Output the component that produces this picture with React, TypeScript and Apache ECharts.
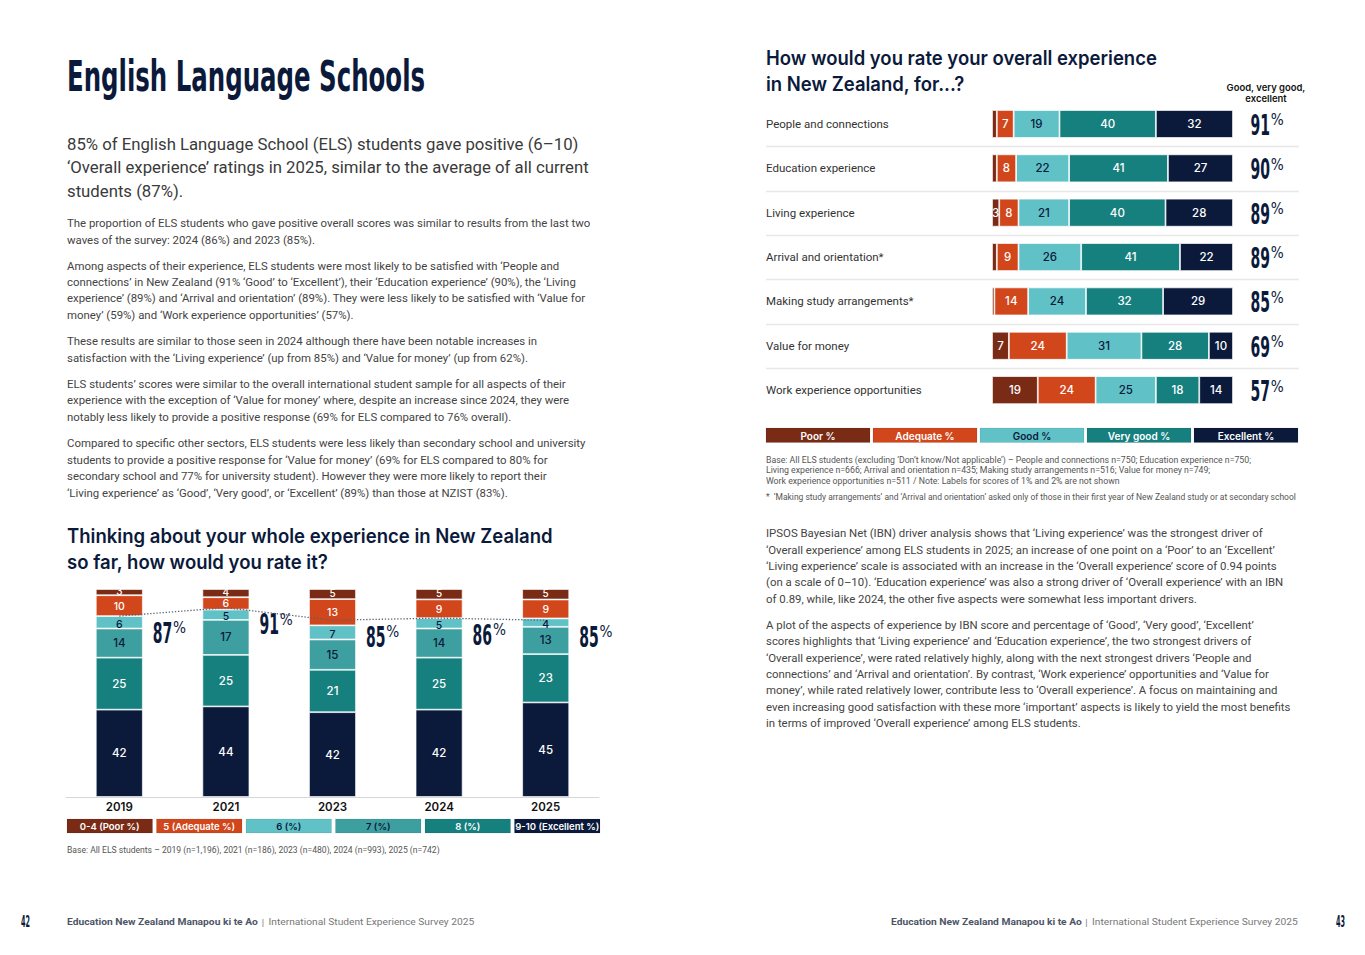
import React, { useEffect, useRef } from 'react';
import * as echarts from 'echarts';

// ---------- chart data: overall experience by year ----------
const years = ['2019', '2021', '2023', '2024', '2025'];
const yPoor = [3, 4, 5, 5, 5];
const yAdequate = [10, 6, 13, 9, 9];
const ySix = [6, 5, 7, 5, 4];
const ySeven = [14, 17, 15, 14, 13];
const yEight = [25, 25, 21, 25, 23];
const yExcellent = [42, 44, 42, 42, 45];
const yPositive = [87, 91, 85, 86, 85];
const yearLegend = ['0-4 (Poor %)', '5 (Adequate %)', '6 (%)', '7 (%)', '8 (%)', '9-10 (Excellent %)'];

// ---------- chart data: aspects of experience ----------
const aspects = [
  'People and connections',
  'Education experience',
  'Living experience',
  'Arrival and orientation*',
  'Making study arrangements*',
  'Value for money',
  'Work experience opportunities',
];
const aPoor = [2, 2, 3, 2, 1, 7, 19];
const aAdequate = [7, 8, 8, 9, 14, 24, 24];
const aGood = [19, 22, 21, 26, 24, 31, 25];
const aVeryGood = [40, 41, 40, 41, 32, 28, 18];
const aExcellent = [32, 27, 28, 22, 29, 10, 14];
const aPositive = [91, 90, 89, 89, 85, 69, 57];
const aspectLegend = ['Poor %', 'Adequate %', 'Good %', 'Very good %', 'Excellent %'];

// ---------- page text ----------
const pageTitle = 'English Language Schools';
const leadLines = [
  '85% of English Language School (ELS) students gave positive (6–10)',
  '‘Overall experience’ ratings in 2025, similar to the average of all current',
  'students (87%).',
];
const leftBody: [number, string][] = [
  [223, 'The proportion of ELS students who gave positive overall scores was similar to results from the last two'],
  [240, 'waves of the survey: 2024 (86%) and 2023 (85%).'],
  [266, 'Among aspects of their experience, ELS students were most likely to be satisfied with ‘People and'],
  [282, 'connections’ in New Zealand (91% ‘Good’ to ‘Excellent’), their ‘Education experience’ (90%), the ‘Living'],
  [298, 'experience’ (89%) and ‘Arrival and orientation’ (89%). They were less likely to be satisfied with ‘Value for'],
  [315, 'money’ (59%) and ‘Work experience opportunities’ (57%).'],
  [341, 'These results are similar to those seen in 2024 although there have been notable increases in'],
  [358, 'satisfaction with the ‘Living experience’ (up from 85%) and ‘Value for money’ (up from 62%).'],
  [384, 'ELS students’ scores were similar to the overall international student sample for all aspects of their'],
  [400, 'experience with the exception of ‘Value for money’ where, despite an increase since 2024, they were'],
  [417, 'notably less likely to provide a positive response (69% for ELS compared to 76% overall).'],
  [443, 'Compared to specific other sectors, ELS students were less likely than secondary school and university'],
  [460, 'students to provide a positive response for ‘Value for money’ (69% for ELS compared to 80% for'],
  [476, 'secondary school and 77% for university student). However they were more likely to report their'],
  [493, '‘Living experience’ as ‘Good’, ‘Very good’, or ‘Excellent’ (89%) than those at NZIST (83%).'],
];
const rightBody: [number, string][] = [
  [533, 'IPSOS Bayesian Net (IBN) driver analysis shows that ‘Living experience’ was the strongest driver of'],
  [550, '‘Overall experience’ among ELS students in 2025; an increase of one point on a ‘Poor’ to an ‘Excellent’'],
  [566, '‘Living experience’ scale is associated with an increase in the ‘Overall experience’ score of 0.94 points'],
  [582, '(on a scale of 0–10). ‘Education experience’ was also a strong driver of ‘Overall experience’ with an IBN'],
  [599, 'of 0.89, while, like 2024, the other five aspects were somewhat less important drivers.'],
  [625, 'A plot of the aspects of experience by IBN score and percentage of ‘Good’, ‘Very good’, ‘Excellent’'],
  [641, 'scores highlights that ‘Living experience’ and ‘Education experience’, the two strongest drivers of'],
  [658, '‘Overall experience’, were rated relatively highly, along with the next strongest drivers ‘People and'],
  [674, 'connections’ and ‘Arrival and orientation’. By contrast, ‘Work experience’ opportunities and ‘Value for'],
  [690, 'money’, while rated relatively lower, contribute less to ‘Overall experience’. A focus on maintaining and'],
  [707, 'even increasing good satisfaction with these more ‘important’ aspects is likely to yield the most benefits'],
  [723, 'in terms of improved ‘Overall experience’ among ELS students.'],
];
const leftChartTitle = ['Thinking about your whole experience in New Zealand', 'so far, how would you rate it?'];
const rightChartTitle = ['How would you rate your overall experience', 'in New Zealand, for...?'];
const leftBase = 'Base: All ELS students – 2019 (n=1,196), 2021 (n=186), 2023 (n=480), 2024 (n=993), 2025 (n=742)';
const rightBase = [
  'Base: All ELS students (excluding ‘Don’t know/Not applicable’) – People and connections n=750; Education experience n=750;',
  'Living experience n=666; Arrival and orientation n=435; Making study arrangements n=516; Value for money n=749;',
  'Work experience opportunities n=511 / Note: Labels for scores of 1% and 2% are not shown',
];
const footnote = '*  ‘Making study arrangements’ and ‘Arrival and orientation’ asked only of those in their first year of New Zealand study or at secondary school';
const footerBold = 'Education New Zealand Manapou ki te Ao';
const footerRegular = 'International Student Experience Survey 2025';

// ---------- style ----------
const NAVY = '#0b1a3b';
const YEAR_COLORS = ['#7a2b15', '#d2461b', '#60c2c7', '#3e9fa1', '#16807f', '#0b1a3b'];
const YEAR_TEXT = ['#ffffff', '#ffffff', NAVY, NAVY, '#ffffff', '#ffffff'];
const YEAR_LABEL_SHIFT = [-1, 0.5, 2, 0, 0, 0];
const YEAR_LABEL_SIZE = [10, 10.5, 10.5, 11.5, 11.5, 11.5];
const ASPECT_COLORS = ['#7a2b15', '#d2461b', '#60c2c7', '#16807f', '#0b1a3b'];
const ASPECT_TEXT = ['#ffffff', '#ffffff', NAVY, '#ffffff', '#ffffff'];

const COND = '"Liberation Sans Narrow", "DejaVu Sans Condensed", "DejaVu Sans", sans-serif';
const BODY = 'Roboto, "Liberation Sans", sans-serif';
const HEAD = 'Inter, Roboto, sans-serif';

type F = { family: string; size: number; weight: number };
const fstr = (f: F) => `${f.weight} ${f.size}px ${f.family}`;

function makeMeasure() {
  const c = document.createElement('canvas');
  const ctx = c.getContext('2d') as CanvasRenderingContext2D;
  return (t: string, f: F) => {
    ctx.font = fstr(f);
    return ctx.measureText(t).width;
  };
}

function T(x: number, y: number, text: string, f: F, fill: string, sx = 1, align = 'left') {
  return {
    type: 'text',
    x,
    y,
    scaleX: sx,
    silent: true,
    style: {
      text,
      fill,
      fontFamily: f.family,
      fontSize: f.size,
      fontWeight: f.weight,
      align,
      verticalAlign: 'middle',
      textAlign: align,
      textVerticalAlign: 'middle',
    },
  };
}

export default function App() {
  const ref = useRef<HTMLDivElement>(null);

  useEffect(() => {
    document.body.style.margin = '0';
    const el = ref.current as HTMLDivElement;
    const chart = echarts.init(el, null, { renderer: 'svg' });
    const mw = makeMeasure();

    // ---- left chart series (bottom to top) ----
    const yearArrays = [yPoor, yAdequate, ySix, ySeven, yEight, yExcellent];
    const yTot = years.map((_, i) => yearArrays.reduce((s, a) => s + a[i], 0));
    const yearOrder = [5, 4, 3, 2, 1, 0];
    const yearSeries = yearOrder.map((k) => ({
      type: 'bar',
      name: yearLegend[k],
      stack: 'years',
      xAxisIndex: 0,
      yAxisIndex: 0,
      barWidth: 47,
      data: yearArrays[k].map((v, i) => ({ value: (v / yTot[i]) * 100, raw: v })),
      itemStyle: { color: YEAR_COLORS[k], borderColor: 'rgba(255,255,255,0.85)', borderWidth: 0.8 },
      label: {
        show: true,
        position: 'inside',
        offset: [0, YEAR_LABEL_SHIFT[k]],
        formatter: (p: any) => String(p.data.raw),
        color: YEAR_TEXT[k],
        fontSize: YEAR_LABEL_SIZE[k],
        lineHeight: 9,
        fontFamily: HEAD,
        fontWeight: 500,
        textBorderWidth: 0,
      },
      silent: true,
    }));

    // ---- right chart series (left to right) ----
    const aspectArrays = [aPoor, aAdequate, aGood, aVeryGood, aExcellent];
    const aTot = aspects.map((_, i) => aspectArrays.reduce((s, a) => s + a[i], 0));
    const aspectSeries = aspectArrays.map((arr, k) => ({
      type: 'bar',
      name: aspectLegend[k],
      stack: 'aspects',
      xAxisIndex: 1,
      yAxisIndex: 1,
      barWidth: 28,
      data: arr.map((v, i) => ({ value: (v / aTot[i]) * 100, raw: v })),
      itemStyle: { color: ASPECT_COLORS[k], borderColor: 'rgba(255,255,255,0.9)', borderWidth: 0.8 },
      label: {
        show: true,
        position: 'inside',
        formatter: (p: any) => (p.data.raw >= 3 ? String(p.data.raw) : ''),
        color: ASPECT_TEXT[k],
        fontSize: 11.5,
        fontFamily: HEAD,
        fontWeight: 500,
        textBorderWidth: 0,
      },
      silent: true,
    }));

    chart.setOption({
      animation: false,
      grid: [
        { left: 66, top: 589, width: 533, height: 208 },
        { left: 992, top: 101.8, width: 241, height: 310.5 },
      ],
      xAxis: [
        {
          gridIndex: 0,
          type: 'category',
          data: years,
          axisTick: { show: false },
          axisLine: { lineStyle: { color: '#d6d6d6', width: 1 } },
          axisLabel: { color: '#111', fontSize: 11.5, fontWeight: 600, fontFamily: HEAD, margin: 4 },
        },
        { gridIndex: 1, type: 'value', min: 0, max: 100, show: false },
      ],
      yAxis: [
        { gridIndex: 0, type: 'value', min: 0, max: 100, show: false },
        {
          gridIndex: 1,
          type: 'category',
          data: aspects,
          inverse: true,
          axisLine: { show: false },
          axisTick: { show: false },
          splitLine: { show: false },
          axisLabel: { align: 'left', margin: 226, color: '#333', fontSize: 11.5, fontFamily: BODY },
        },
      ],
      series: [
        ...yearSeries,
        {
          type: 'line',
          name: 'Positive (6-10)',
          xAxisIndex: 0,
          yAxisIndex: 0,
          data: yPositive,
          symbol: 'none',
          z: 5,
          silent: true,
          lineStyle: { color: '#56606e', width: 1.3, type: [1.3, 1.8] },
        },
        ...aspectSeries,
      ],
    });

    // ---------- graphics ----------
    const g: any[] = [];

    // page title
    const titleF: F = { family: COND, size: 42.5, weight: 700 };
    g.push(T(67, 76.5, pageTitle, titleF, NAVY, 358 / mw(pageTitle, titleF)));

    // lead paragraph
    const leadF: F = { family: BODY, size: 16.5, weight: 400 };
    const leadSX = 522 / mw(leadLines[1], leadF);
    [145, 168, 191.5].forEach((y, i) => g.push(T(67, y, leadLines[i], leadF, '#3a3a3a', leadSX)));

    // body paragraphs
    const bodyF: F = { family: BODY, size: 11.5, weight: 400 };
    const bodySX = 524 / mw(leftBody[0][1], bodyF);
    leftBody.forEach(([y, t]) => g.push(T(67, y, t, bodyF, '#444', bodySX)));
    rightBody.forEach(([y, t]) => g.push(T(766, y, t, bodyF, '#444', bodySX)));

    // chart titles
    const headF: F = { family: HEAD, size: 19.5, weight: 600 };
    const lSX = 486 / mw(leftChartTitle[0], headF);
    const rSX = 391 / mw(rightChartTitle[0], headF);
    g.push(T(67, 536, leftChartTitle[0], headF, NAVY, lSX));
    g.push(T(67, 562, leftChartTitle[1], headF, NAVY, lSX));
    g.push(T(766, 58, rightChartTitle[0], headF, NAVY, rSX));
    g.push(T(766, 84, rightChartTitle[1], headF, NAVY, rSX));

    // header over totals
    const smallHeadF: F = { family: HEAD, size: 9.5, weight: 600 };
    const shSX = 79 / mw('Good, very good,', smallHeadF);
    g.push(T(1266, 87, 'Good, very good,', smallHeadF, '#111', shSX, 'center'));
    g.push(T(1266, 98, 'excellent', smallHeadF, '#111', shSX, 'center'));

    // big condensed percentages
    const bigF: F = { family: COND, size: 28, weight: 700 };
    const pctF: F = { family: COND, size: 15.5, weight: 400 };
    const digitsSX = 19.5 / mw('00', bigF);
    const pctSX = 13 / mw('%', pctF);
    const bigPct = (x0: number, cy: number, val: number) => {
      const num = String(val);
      const w = mw(num, bigF) * digitsSX;
      g.push(T(x0, cy, num, bigF, NAVY, digitsSX));
      g.push(T(x0 + w + 0.8, cy - 4.6, '%', pctF, NAVY, pctSX));
    };

    years.forEach((yr, i) => {
      const cx = chart.convertToPixel({ xAxisIndex: 0 }, yr) as number;
      const cy = chart.convertToPixel({ yAxisIndex: 0 }, yPositive[i] - 8) as number;
      bigPct(cx + 33.5, cy, yPositive[i]);
    });

    const barRight = chart.convertToPixel({ xAxisIndex: 1 }, 100) as number;
    const rowY = aspects.map((a) => chart.convertToPixel({ yAxisIndex: 1 }, a) as number);
    aspects.forEach((_, i) => bigPct(barRight + 17.5, rowY[i] + 1, aPositive[i]));

    // row separators
    for (let i = 1; i < rowY.length; i++) {
      const y = Math.round((rowY[i - 1] + rowY[i]) / 2) + 0.5;
      g.push({ type: 'line', silent: true, shape: { x1: 766, y1: y, x2: 1299, y2: y }, style: { stroke: '#e8e8e8', lineWidth: 1.5 } });
    }

    // legends
    const legF: F = { family: HEAD, size: 9.5, weight: 600 };
    yearLegend.forEach((name, k) => {
      const x = 67 + k * 89.5;
      g.push({ type: 'rect', silent: true, shape: { x, y: 819, width: 85.5, height: 14 }, style: { fill: YEAR_COLORS[k], stroke: 'rgba(0,0,0,0.12)', lineWidth: 0.6 } });
      g.push(T(x + 42.75, 826.5, name, legF, YEAR_TEXT[k], 1, 'center'));
    });
    const legF2: F = { family: HEAD, size: 10, weight: 600 };
    aspectLegend.forEach((name, k) => {
      const x = 766 + k * 107;
      g.push({ type: 'rect', silent: true, shape: { x, y: 428, width: 104, height: 14.5 }, style: { fill: ASPECT_COLORS[k], stroke: 'rgba(0,0,0,0.12)', lineWidth: 0.6 } });
      g.push(T(x + 52, 435.5, name, legF2, ASPECT_TEXT[k], 1, 'center'));
    });

    // base notes
    const noteF: F = { family: BODY, size: 8.6, weight: 400 };
    const noteSX = 373 / mw(leftBase, noteF);
    const rNoteSX = 486 / mw(rightBase[0], noteF);
    g.push(T(67, 850, leftBase, noteF, '#555', noteSX));
    [460, 470.5, 481].forEach((y, i) => g.push(T(766, y, rightBase[i], noteF, '#555', rNoteSX)));
    g.push(T(766, 497, footnote, noteF, '#555', 530 / mw(footnote, noteF)));

    // footer
    const fbF: F = { family: BODY, size: 9.5, weight: 700 };
    const frF: F = { family: BODY, size: 9.5, weight: 400 };
    const fbSX = 191 / mw(footerBold, fbF);
    const frSX = 206 / mw(footerRegular, frF);
    const pageF: F = { family: COND, size: 15, weight: 700 };
    const pageSX = 9 / mw('42', pageF);
    g.push(T(21, 921.5, '42', pageF, NAVY, pageSX));
    g.push(T(67, 922, footerBold, fbF, '#4d5566', fbSX));
    g.push(T(263, 922, '|', frF, '#777', 1, 'center'));
    g.push(T(268.5, 922, footerRegular, frF, '#777', frSX));
    g.push(T(891, 922, footerBold, fbF, '#4d5566', fbSX));
    g.push(T(1086.5, 922, '|', frF, '#777', 1, 'center'));
    g.push(T(1092, 922, footerRegular, frF, '#777', frSX));
    g.push(T(1336, 921.5, '43', pageF, NAVY, pageSX));

    chart.setOption({ graphic: g });

    return () => chart.dispose();
  }, []);

  return <div ref={ref} style={{ width: 1365, height: 955 }} />;
}
